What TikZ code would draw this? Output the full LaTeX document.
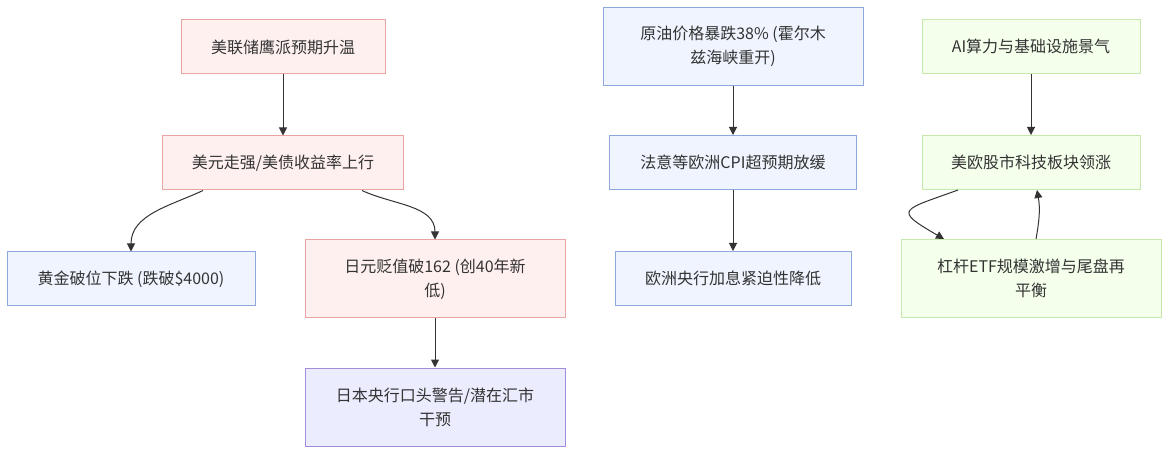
\documentclass[tikz,border=0pt]{standalone}
\usepackage{fontspec}
\setmainfont{Noto Sans CJK SC}
\usepackage{xcolor}
\usepackage{tikz}
\usetikzlibrary{shapes,arrows.meta}
\definecolor{ink}{HTML}{333333}
\definecolor{redfill}{HTML}{FFF0F0}
\definecolor{redline}{HTML}{E8A3A3}
\definecolor{bluefill}{HTML}{EFF4FF}
\definecolor{blueline}{HTML}{8EA7DC}
\definecolor{purplefill}{HTML}{ECECFF}
\definecolor{purpleline}{HTML}{A38BDD}
\definecolor{greenfill}{HTML}{F4FFEC}
\definecolor{greenline}{HTML}{C6E8AD}
\tikzstyle{event}=[rectangle, draw, line width=1pt, inner sep=0pt,
        minimum height=54pt, align=center, text=ink,
        font=\fontsize{16}{24}\selectfont]
\tikzstyle{pressure}=[event, fill=redfill, draw=redline]
\tikzstyle{relief}=[event, fill=bluefill, draw=blueline]
\tikzstyle{policy}=[event, fill=purplefill, draw=purpleline]
\tikzstyle{rally}=[event, fill=greenfill, draw=greenline]
\tikzstyle{twoline}=[minimum height=78pt]
\tikzstyle{link}=[-{Triangle[length=8pt,width=8pt]}, line width=1pt, draw=ink]

\begin{document}
\begin{tikzpicture}
      [node distance = 116pt, auto]
      \fill [white] (0,0) rectangle (1170pt,-454pt);
      % Place nodes
      \node [pressure, minimum width=204pt] (hawk) at (283pt,-47pt) {美联储鹰派预期升温};
      \node [pressure, below of=hawk, minimum width=241pt] (usd) {美元走强/美债收益率上行};
      \coordinate [below of=usd] (split);
      \node [relief, left of=split, node distance=152pt, minimum width=248pt] (gold) {黄金破位下跌 (跌破\$4000)};
      \node [pressure, twoline, right of=split, node distance=152pt, minimum width=260pt] (yen) {日元贬值破162 (创40年新\\低)};
      \node [policy, twoline, below of=yen, node distance=128pt, minimum width=260pt] (bojwarn) {日本央行口头警告/潜在汇市\\干预};
      \node [relief, twoline, minimum width=260pt] (oil) at (733pt,-46.5pt) {原油价格暴跌38\% (霍尔木\\兹海峡重开)};
      \node [relief, below of=oil, minimum width=247pt] (cpi) {法意等欧洲CPI超预期放缓};
      \node [relief, below of=cpi, minimum width=236pt] (ecb) {欧洲央行加息紧迫性降低};
      \node [rally, minimum width=218pt] (ai) at (1031pt,-46.5pt) {AI算力与基础设施景气};
      \node [rally, below of=ai, minimum width=218pt] (stocks) {美欧股市科技板块领涨};
      \node [rally, twoline, below of=stocks, minimum width=260pt] (etf) {杠杆ETF规模激增与尾盘再\\平衡};
      % Draw edges
      \draw [link] (hawk) -- (usd);
      \draw [link] ([xshift=-80pt]usd.south) to [out=-155, in=90] (gold);
      \draw [link] ([xshift=79pt]usd.south) to [out=-25, in=90] (yen);
      \draw [link] (yen) -- (bojwarn);
      \draw [link] (oil) -- (cpi);
      \draw [link] (cpi) -- (ecb);
      \draw [link] (ai) -- (stocks);
      \draw [link] ([xshift=-73pt]stocks.south) to [out=-160, in=150, looseness=3] ([xshift=-87pt]etf.north);
      \draw [link] ([xshift=5pt]etf.north) to [out=80, in=-80] ([xshift=6pt]stocks.south);
\end{tikzpicture}
\end{document}
